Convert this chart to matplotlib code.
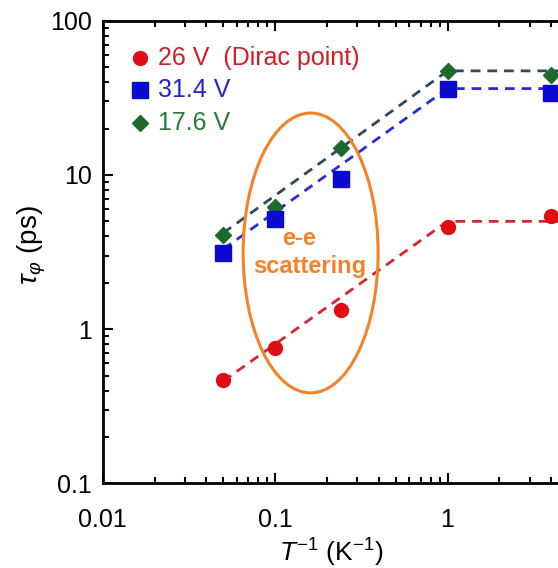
import matplotlib.pyplot as plt
from matplotlib.patches import Ellipse

plt.rcParams['font.family'] = ['Liberation Sans', 'DejaVu Sans']
plt.rcParams['mathtext.fontset'] = 'custom'
plt.rcParams['mathtext.rm'] = 'Liberation Sans'
plt.rcParams['mathtext.it'] = 'Liberation Sans:italic'

# inverse temperature (1/K)
inv_T = [0.05, 0.1, 0.24, 1.0, 4.0]

# dephasing time (ps)
tau_26 = [0.47, 0.75, 1.33, 4.6, 5.4]
tau_31 = [3.1, 5.2, 9.4, 36.0, 34.0]
tau_17 = [4.1, 6.2, 14.9, 47.0, 44.5]

# dashed guide lines
fit_x = [0.05, 1.0, 5.0]
fit_26 = [0.46, 5.0, 5.0]
fit_31 = [3.3, 36.3, 36.3]
fit_17 = [4.2, 47.3, 47.3]

red = "#e00d16"
blue = "#0a0ad0"
green = "#1c6a2c"

fig = plt.figure(figsize=(5.58, 5.68), dpi=100)
ax = fig.add_axes([0.184, 0.149, 0.927, 0.8145])
ax.set_xscale("log")
ax.set_yscale("log")
ax.set_xlim(0.01, 10)
ax.set_ylim(0.1, 100)

ax.plot(fit_x, fit_17, ls="--", color="#2d4a5c", lw=2, dashes=(3.5, 2.5), zorder=2)
ax.plot(fit_x, fit_31, ls="--", color="#2a2ad8", lw=2, dashes=(3.5, 2.5), zorder=2)
ax.plot(fit_x, fit_26, ls="--", color="#d8242c", lw=2, dashes=(3.5, 2.5), zorder=2)

ax.plot(inv_T, tau_17, "D", color=green, ms=8.5, ls="none", zorder=3)
ax.plot(inv_T, tau_31, "s", color=blue, ms=11, ls="none", zorder=3)
ax.plot(inv_T, tau_26, "o", color=red, ms=10, ls="none", zorder=4)

# legend drawn by hand
ax.plot([0.072], [0.919], "o", color=red, ms=10, transform=ax.transAxes, clip_on=False)
ax.plot([0.072], [0.850], "s", color=blue, ms=11, transform=ax.transAxes, clip_on=False)
ax.plot([0.072], [0.779], "D", color=green, ms=8.5, transform=ax.transAxes, clip_on=False)
ax.text(0.107, 0.919, "26 V  (Dirac point)", color="#d01e2a", fontsize=18,
        va="center", transform=ax.transAxes)
ax.text(0.107, 0.850, "31.4 V", color="#2424c0", fontsize=18,
        va="center", transform=ax.transAxes)
ax.text(0.107, 0.779, "17.6 V", color="#2a7a3a", fontsize=18,
        va="center", transform=ax.transAxes)

# e-e scattering region
orange = "#f5822a"
ax.add_patch(Ellipse((0.402, 0.498), 0.261, 0.605, transform=ax.transAxes,
                     fill=False, edgecolor=orange, lw=2.2, zorder=5))
ax.text(0.38, 0.53, "e-e", color=orange, fontsize=17, fontweight="bold",
        ha="center", va="center", transform=ax.transAxes, zorder=6)
ax.text(0.40, 0.468, "scattering", color=orange, fontsize=17, fontweight="bold",
        ha="center", va="center", transform=ax.transAxes, zorder=6)

ax.set_xticks([0.01, 0.1, 1])
ax.set_xticklabels(["0.01", "0.1", "1"])
ax.set_yticks([0.1, 1, 10, 100])
ax.set_yticklabels(["0.1", "1", "10", "100"])
ax.tick_params(which="both", direction="in", top=True, right=False, width=1.5, labelsize=18)
ax.tick_params(which="major", length=7)
ax.tick_params(which="minor", length=4)
ax.tick_params(axis="x", which="both", pad=18)
ax.tick_params(axis="y", which="both", pad=8)
for s in ax.spines.values():
    s.set_linewidth(2)

ax.set_xlabel(r"$T^{-1}$ (K$^{-1}$)", fontsize=19)
ax.set_ylabel(r"$\tau_{\varphi}$ (ps)", fontsize=20)
ax.xaxis.set_label_coords(0.4416, -0.116)
ax.yaxis.set_label_coords(-0.106, 0.515)

fig.savefig("out.png", dpi=100)
